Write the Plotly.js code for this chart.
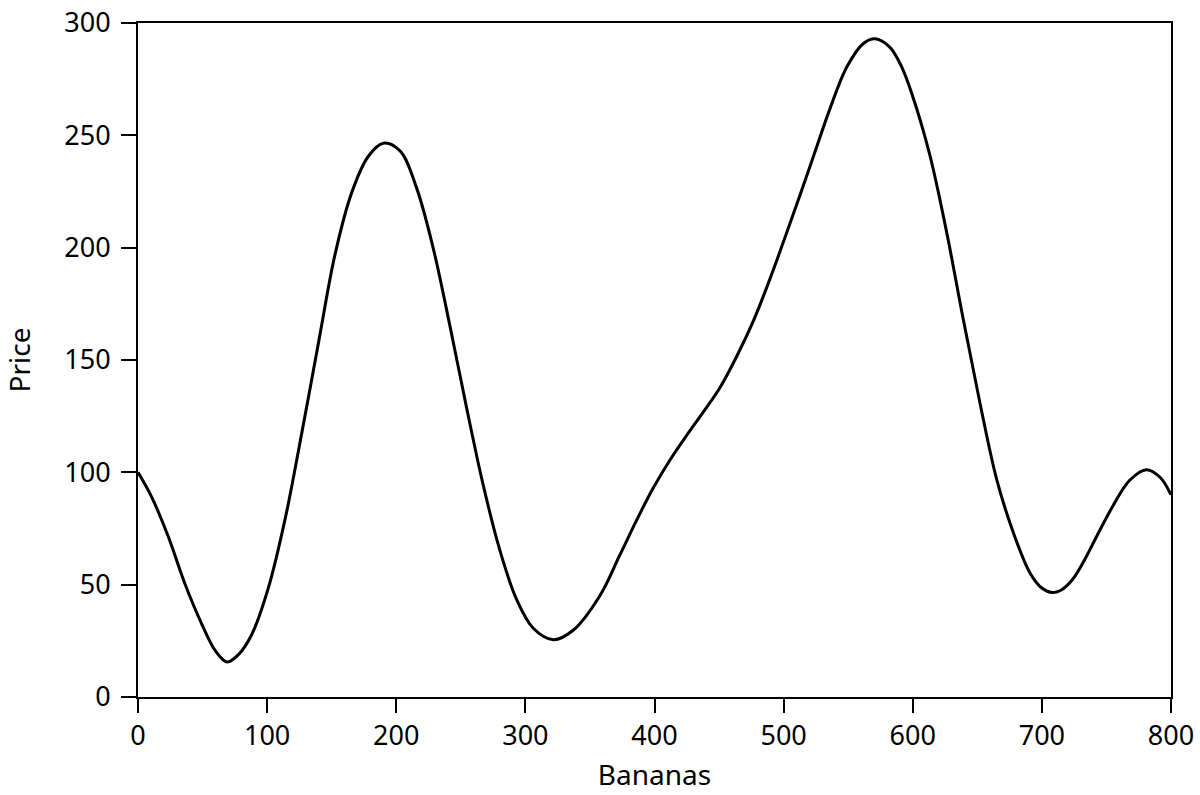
<!DOCTYPE html>
<html>
<head>
<meta charset="utf-8">
<script src="https://cdn.plot.ly/plotly-3.0.1.min.js"></script>
<style>html,body{margin:0;padding:0;background:#fff;}#chart{width:1200px;height:795px;}</style>
</head>
<body>
<div id="chart"></div>
<script>
const bananas = [0, 10.6, 23.5, 36.4, 49.3, 60, 69, 78, 88, 101, 114, 127, 140, 152.6, 165.5, 178.4, 190, 203, 215.8, 228.7, 241.6, 254.5, 267.4, 280.3, 293.2, 306.1, 321.6, 337, 357.8, 373, 386, 399, 412, 425, 438, 451, 464, 477, 490, 510, 523, 536, 549, 562, 571, 582, 591, 600, 613, 626, 639, 652, 665, 678, 691, 700, 708, 716, 724, 733, 742, 755, 768, 781, 791.5, 800];
const price = [100, 89, 71.3, 50.3, 32.6, 20.5, 15.6, 19, 27.7, 48.7, 79.4, 118, 158.4, 197, 224.5, 240.7, 246.5, 243, 226.5, 199.6, 165.1, 128.7, 94.2, 65.2, 43.4, 30.6, 25.5, 29.7, 45.2, 63, 78.5, 93, 105.5, 116.5, 127, 138, 152, 168, 187, 219, 240.5, 262, 280.5, 291, 293, 289.4, 281, 267.3, 241.7, 207.6, 168.5, 131, 96.9, 73, 55, 48.5, 46.5, 48, 52.5, 61, 71, 85, 96.5, 101.2, 97.8, 90];
const xTicks = [0, 100, 200, 300, 400, 500, 600, 700, 800];
const yTicks = [0, 50, 100, 150, 200, 250, 300];

const tickFont = {family: 'Noto Sans, Open Sans, sans-serif', size: 27, color: '#000'};
const titleFont = {family: 'Noto Sans, Open Sans, sans-serif', size: 28, color: '#000'};
Plotly.newPlot('chart', [{
  x: bananas, y: price, type: 'scatter', mode: 'lines',
  line: {color: '#000', width: 3, shape: 'spline', smoothing: 1},
  hoverinfo: 'skip'
}], {
  width: 1200, height: 795,
  margin: {l: 138, r: 29, t: 23, b: 98},
  paper_bgcolor: '#fff', plot_bgcolor: '#fff',
  font: tickFont,
  showlegend: false,
  xaxis: {
    range: [0, 800], tickvals: xTicks, ticktext: xTicks.map(String),
    showgrid: false, zeroline: false, showline: true, mirror: true,
    linecolor: '#000', linewidth: 2, ticks: 'outside', ticklen: 14, tickwidth: 2, tickcolor: '#000',
    tickfont: tickFont,
    title: {text: 'Bananas', font: titleFont, standoff: 13}
  },
  yaxis: {
    range: [0, 300], tickvals: yTicks, ticktext: yTicks.map(String),
    showgrid: false, zeroline: false, showline: true, mirror: true,
    linecolor: '#000', linewidth: 2, ticks: 'outside', ticklen: 15, tickwidth: 2, tickcolor: '#000',
    tickfont: tickFont, ticklabelstandoff: 5,
    title: {text: 'Price', font: titleFont, standoff: 26}
  }
}, {staticPlot: true});
</script>
</body>
</html>
